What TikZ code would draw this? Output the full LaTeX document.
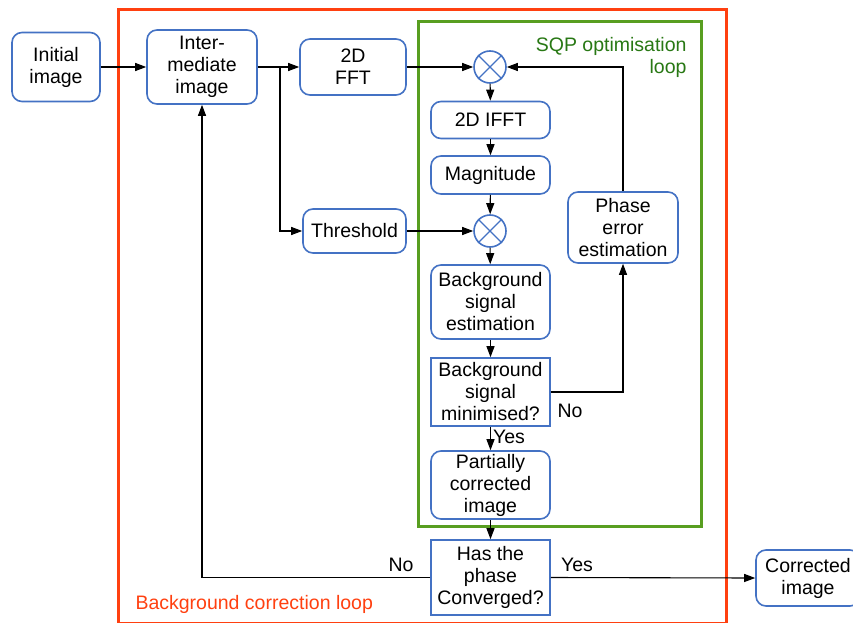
\documentclass[tikz,border=0pt]{standalone}
\usepackage{fontspec}
\setmainfont{Liberation Sans}
\usetikzlibrary{arrows.meta}
\definecolor{boxblue}{RGB}{68,114,196}
\definecolor{framered}{RGB}{255,64,16}
\definecolor{framegreen}{RGB}{88,158,32}
\definecolor{textgreen}{RGB}{40,120,20}
\tikzset{
  every node/.style={font=\fontsize{19.5}{22}\selectfont},
  rbox/.style={draw=boxblue, line width=1.6pt, rounded corners=10pt, align=center, inner sep=0pt},
  sbox/.style={draw=boxblue, line width=1.6pt, align=center, inner sep=0pt},
  mult/.style={circle, draw=boxblue, line width=1.6pt, minimum size=32pt, inner sep=0pt},
  arr/.style={line width=1.1pt, -{Triangle[length=11pt,width=8pt]}},
  ln/.style={line width=1.1pt}
}
\begin{document}
\begin{tikzpicture}[x=1pt,y=-1pt]
\useasboundingbox (0,0) rectangle (853,623);
\fill[white] (0,0) rectangle (853,623);
% frames
\draw[framered, line width=3pt] (118,10) rectangle (726,623);
\draw[framegreen, line width=3pt] (418,22) rectangle (701,526);
\node[text=textgreen, align=right, anchor=east] (sqp) at (690,57) {SQP optimisation\\loop};
\node[text=framered, anchor=west] (bcl) at (132,604) {Background correction loop};
% nodes
\node[rbox, minimum width=88pt, minimum height=69pt] (init) at (56,67) {Initial\\image};
\node[rbox, minimum width=110pt, minimum height=74pt] (inter) at (202,67) {Inter-\\mediate\\image};
\node[rbox, minimum width=106pt, minimum height=56pt] (fft) at (353,67) {2D\\FFT};
\node[rbox, minimum width=103pt, minimum height=44pt] (thr) at (354.5,231) {Threshold};
\node[mult] (c1) at (490,67) {};
\node[mult] (c2) at (490,231) {};
\node[rbox, minimum width=119pt, minimum height=37pt] (ifft) at (490.5,120) {2D IFFT};
\node[rbox, minimum width=119pt, minimum height=38pt] (mag) at (490.5,175) {Magnitude};
\node[rbox, minimum width=119pt, minimum height=74pt] (bse) at (490.5,302) {Background\\signal\\estimation};
\node[sbox, minimum width=119pt, minimum height=68pt] (bsm) at (490.5,392) {Background\\signal\\minimised?};
\node[rbox, minimum width=119pt, minimum height=68pt] (pci) at (490.5,485) {Partially\\corrected\\image};
\node[sbox, minimum width=119pt, minimum height=75pt] (conv) at (490.5,577.5) {Has the\\phase\\Converged?};
\node[rbox, minimum width=110pt, minimum height=71pt] (pee) at (623,227.5) {Phase\\error\\estimation};
\node[rbox, minimum width=104pt, minimum height=56pt] (corr) at (808,578) {Corrected\\image};
% crosses
\draw[boxblue, line width=1.4pt] (c1.45) -- (c1.225) (c1.135) -- (c1.315);
\draw[boxblue, line width=1.4pt] (c2.45) -- (c2.225) (c2.135) -- (c2.315);
% connectors
\coordinate (br) at (280,67);
\draw[arr] (init) -- (inter);
\draw[arr] (inter) -- (fft);
\draw[arr] (br) |- (thr);
\draw[arr] (fft) -- (c1);
\draw[arr] (thr) -- (c2);
\draw[arr] (pee.north) |- (c1);
\draw[arr] (c1) -- (ifft);
\draw[arr] (ifft) -- (mag);
\draw[arr] (mag) -- (c2);
\draw[arr] (c2) -- (bse);
\draw[arr] (bse) -- (bsm);
\draw[arr] (bsm) -- node[right, inner sep=2pt, pos=0.45] (yes1) {Yes} (pci);
\draw[arr] (bsm.east) -| (pee.south);
\node (no1) at (570,411) {No};
\draw[arr] (pci) -- (conv);
\draw[arr] (conv.west) -| (inter.south);
\node (no2) at (401,565) {No};
\draw[arr] (conv.east) -- (corr.west);
\node (yes2) at (577,565) {Yes};
\end{tikzpicture}
\end{document}
